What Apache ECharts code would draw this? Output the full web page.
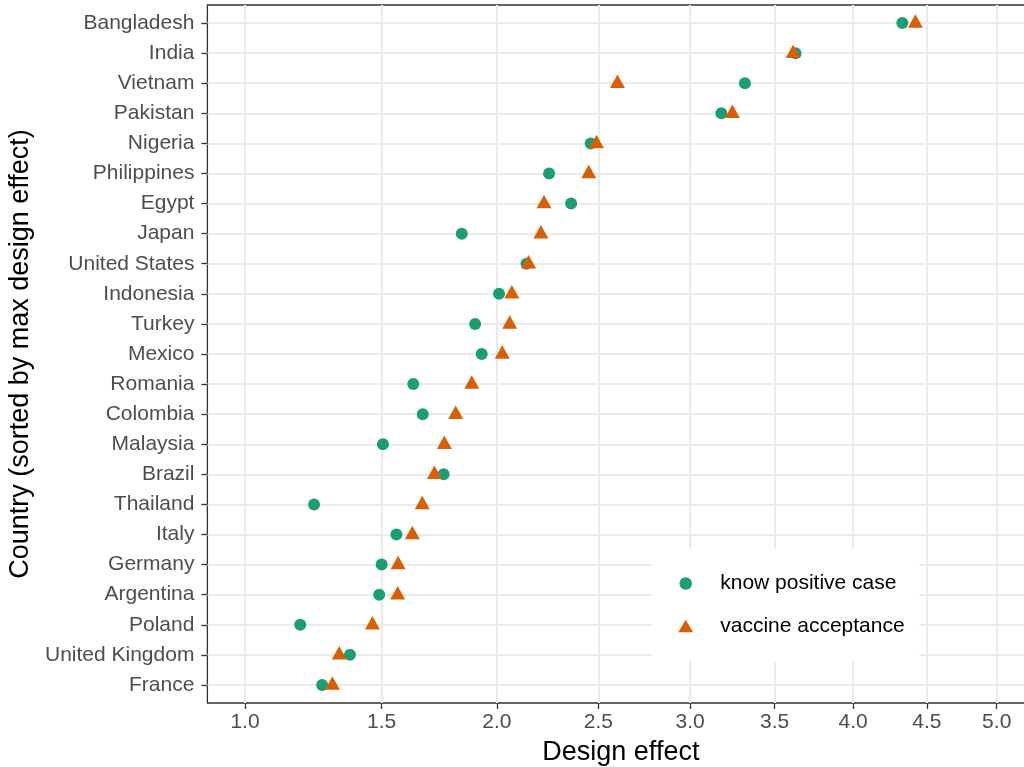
<!DOCTYPE html>
<html>
<head>
<meta charset="utf-8">
<script src="https://cdn.jsdelivr.net/npm/echarts@6/dist/echarts.min.js"></script>
<style>
html,body{margin:0;padding:0;background:#fff;}
#chart{width:1024px;height:767px;}
</style>
</head>
<body>
<div id="chart"></div>
<script>
// ---- data (top to bottom) ----
const categories = ["Bangladesh","India","Vietnam","Pakistan","Nigeria","Philippines","Egypt","Japan","United States","Indonesia","Turkey","Mexico","Romania","Colombia","Malaysia","Brazil","Thailand","Italy","Germany","Argentina","Poland","United Kingdom","France"];
const knowPositiveCase = [4.33,3.63,3.32,3.18,2.46,2.25,2.36,1.84,2.14,2.01,1.90,1.93,1.63,1.67,1.505,1.76,1.24,1.56,1.50,1.49,1.19,1.375,1.27];
const vaccineAcceptance = [4.42,3.615,2.60,3.245,2.49,2.45,2.225,2.21,2.15,2.07,2.06,2.025,1.885,1.813,1.763,1.72,1.668,1.626,1.567,1.565,1.463,1.334,1.308];
const xTicks = [1.0,1.5,2.0,2.5,3.0,3.5,4.0,4.5,5.0];
const seriesNames = ["know positive case","vaccine acceptance"];

// sqrt-scale transform for the x axis
const tr = v => Math.sqrt(v);
const xLo = tr(1), xHi = tr(5), xPad = 0.05 * (xHi - xLo);
const yIdx = categories.map((c, i) => i + 1);

const FONT = "'Liberation Sans', Arial, Helvetica, sans-serif";
const chart = echarts.init(document.getElementById('chart'), null, {renderer: 'canvas'});

chart.setOption({
  backgroundColor: '#ffffff',
  animation: false,
  textStyle: {fontFamily: FONT},
  grid: {
    left: 207.4, right: -10.3, top: 5, bottom: 64,
    show: true, borderColor: '#333333', borderWidth: 1.3,
    backgroundColor: 'transparent',
    outerBoundsMode: 'none', containLabel: false
  },
  xAxis: {
    type: 'value',
    min: xLo - xPad, max: xHi + xPad,
    name: 'Design effect', nameLocation: 'middle', nameGap: 36,
    nameTextStyle: {fontSize: 27, color: '#000', fontFamily: FONT},
    axisLine: {show: false},
    axisTick: {show: true, length: 6, customValues: xTicks.map(tr), lineStyle: {color: '#333333', width: 1.3}},
    axisLabel: {show: true, margin: 9, fontSize: 21, color: '#4d4d4d', fontFamily: FONT,
      customValues: xTicks.map(tr),
      formatter: v => (v * v).toFixed(1)},
    splitLine: {show: true, lineStyle: {color: '#ebebeb', width: 2}}
  },
  yAxis: {
    type: 'value', inverse: true,
    min: 0.4, max: categories.length + 0.6,
    name: 'Country (sorted by max design effect)', nameLocation: 'middle', nameGap: 171,
    nameTextStyle: {fontSize: 27, color: '#000', fontFamily: FONT},
    axisLine: {show: false},
    axisTick: {show: true, length: 6, customValues: yIdx, lineStyle: {color: '#333333', width: 1.3}},
    axisLabel: {show: true, margin: 13, fontSize: 21, color: '#4d4d4d', fontFamily: FONT,
      customValues: yIdx,
      formatter: v => categories[Math.round(v) - 1] || ''},
    splitLine: {show: true, lineStyle: {color: '#ebebeb', width: 2}}
  },
  legend: {
    orient: 'vertical',
    left: 652, top: 548.5,
    padding: [24.5, 15, 24.5, 26.2],
    backgroundColor: '#ffffff',
    itemWidth: 15, itemHeight: 12.5, itemGap: 21.5,
    textStyle: {fontSize: 21, color: '#000', fontFamily: FONT, padding: [0, 0, 0, 22]},
    data: [
      {name: seriesNames[0], icon: 'circle'},
      {name: seriesNames[1], icon: 'triangle'}
    ]
  },
  series: [
    {
      name: seriesNames[0], type: 'scatter', symbol: 'circle', symbolSize: 12,
      itemStyle: {color: '#1b9e77', opacity: 1},
      data: knowPositiveCase.map((v, i) => [tr(v), yIdx[i]]),
      z: 3
    },
    {
      name: seriesNames[1], type: 'scatter', symbol: 'triangle', symbolSize: [15, 13.5], symbolOffset: [0, -2],
      itemStyle: {color: '#d95f02', opacity: 1},
      data: vaccineAcceptance.map((v, i) => [tr(v), yIdx[i]]),
      z: 4
    }
  ]
});
</script>
</body>
</html>
